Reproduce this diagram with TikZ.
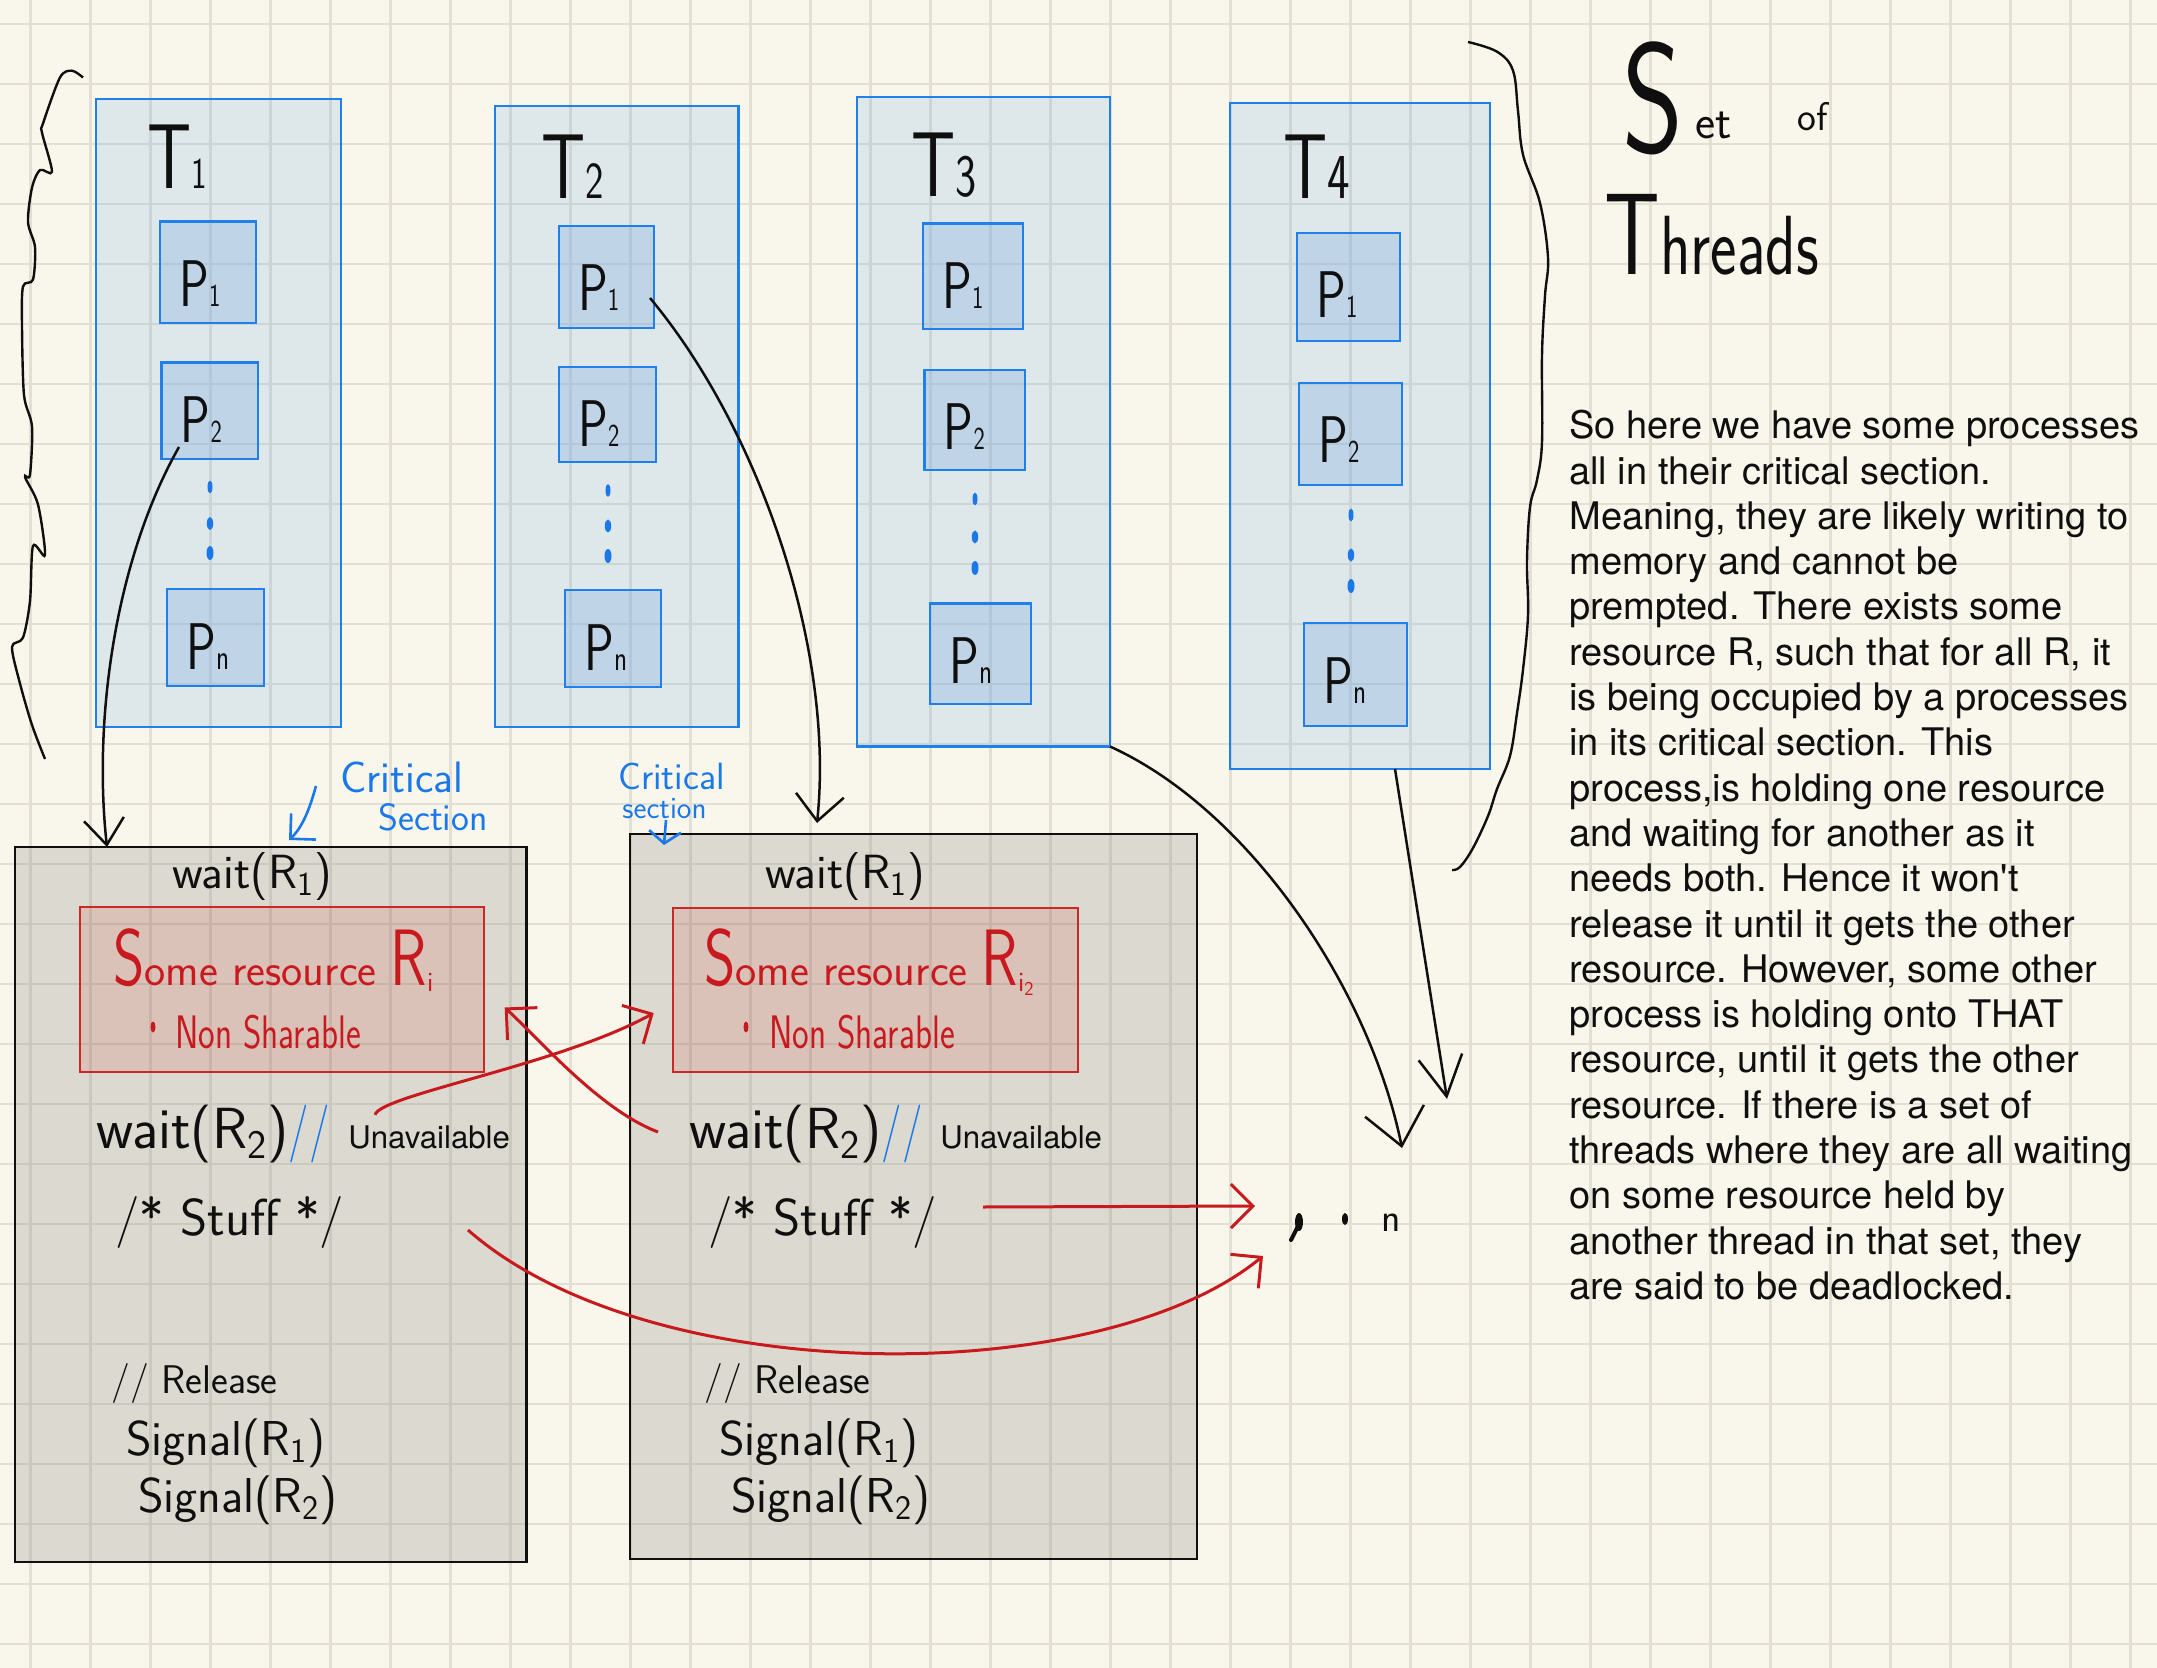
\documentclass[tikz,border=0pt]{standalone}
\usepackage{fontspec}
\usetikzlibrary{arrows.meta,fit}
\newfontfamily\helv{TeX Gyre Heros}
\newfontfamily\hand{lmsans17-regular}[Extension=.otf]
\newfontfamily\handN{lmsans17-regular}[Extension=.otf,FakeStretch=0.75]
\newcommand\fsz[1]{\fontsize{#1}{#1}\selectfont}
\definecolor{bg}{RGB}{249,247,236}
\definecolor{gridc}{RGB}{227,224,211}
\definecolor{tblue}{RGB}{30,128,232}
\definecolor{tfill}{RGB}{114,172,230}
\definecolor{pfill}{RGB}{120,170,225}
\definecolor{gfill}{RGB}{128,128,120}
\definecolor{rfill}{RGB}{213,60,60}
\definecolor{rline}{RGB}{200,40,40}
\definecolor{rink}{RGB}{200,25,30}
\definecolor{bink}{RGB}{26,120,232}
\definecolor{ink}{RGB}{15,15,15}
\begin{document}
\begin{tikzpicture}[x=0.5pt,y=-0.5pt,
  threadbox/.style={draw=tblue,line width=1.1pt,fill=tfill,fill opacity=0.2,inner sep=0pt,outer sep=0pt},
  procbox/.style={draw=tblue,line width=1.1pt,fill=pfill,fill opacity=0.3,inner sep=0pt,outer sep=0pt},
  codebox/.style={draw=ink,line width=1.4pt,fill=gfill,fill opacity=0.24,inner sep=0pt,outer sep=0pt},
  resbox/.style={draw=rline,line width=1.1pt,fill=rfill,fill opacity=0.15,inner sep=0pt,outer sep=0pt},
  tlabel/.style={anchor=base west,inner sep=0pt,text=ink,font=\handN\fsz{46}},
  plabel/.style={anchor=base west,inner sep=0pt,text=ink,font=\handN\fsz{33}},
  code/.style={anchor=base west,inner sep=0pt,text=ink},
  bdot/.style={fill=bink},
  blk/.style={draw=ink,line width=1.25pt},
  redarrow/.style={draw=rink,line width=1.5pt,-{Straight Barb[length=11pt,width=22pt]}},
  bluearrow/.style={draw=bink,line width=1.3pt},
  gridline/.style={draw=gridc,line width=1.25pt}
]
\useasboundingbox (0,0) rectangle (2157,1668);
\fill[bg] (0,0) rectangle (2157,1668);
\foreach \i in {0,...,35} \draw[gridline] ({30.6+60*\i},0) -- ({30.6+60*\i},1668);
\foreach \j in {0,...,27} \draw[gridline] (0,{24+60*\j}) -- (2157,{24+60*\j});

% threads
\node[threadbox, fit={(96,99) (341,727)}] (T1) {};
\node[threadbox, fit={(495,106) (738.5,727)}] (T2) {};
\node[threadbox, fit={(857,97) (1110,746.5)}] (T3) {};
\node[threadbox, fit={(1230,103) (1490,769)}] (T4) {};

\node[procbox, fit={(160,221.5) (256,323)}] (T1P1) {};
\node[procbox, fit={(161.5,362.6) (258,459)}] (T1P2) {};
\node[procbox, fit={(167,589) (264,686)}] (T1Pn) {};
\node[procbox, fit={(558.7,226) (654,328)}] (T2P1) {};
\node[procbox, fit={(559,367) (656,462)}] (T2P2) {};
\node[procbox, fit={(565,590) (661,687)}] (T2Pn) {};
\node[procbox, fit={(923,223.5) (1023,329)}] (T3P1) {};
\node[procbox, fit={(924.5,370) (1025,470)}] (T3P2) {};
\node[procbox, fit={(930,603.5) (1031,704)}] (T3Pn) {};
\node[procbox, fit={(1297,233) (1400,341)}] (T4P1) {};
\node[procbox, fit={(1299,383) (1402,485)}] (T4P2) {};
\node[procbox, fit={(1304,623) (1407,726)}] (T4Pn) {};

\node[tlabel] (lT1) at (147,189) {T{\fsz{22}1}};
\node[tlabel] (lT2) at (541,199) {T{\fsz{26}2}};
\node[tlabel] (lT3) at (911,197) {T{\fsz{30}3}};
\node[tlabel] (lT4) at (1283,199) {T{\fsz{32}4}};

\foreach \b in {T1,T2,T3,T4}{
  \node[plabel] at ([xshift=9.5pt,yshift=-42.5pt]\b P1.north west) {P{\fsz{16}1}};
  \node[plabel] at ([xshift=9.5pt,yshift=-40pt]\b P2.north west) {P{\fsz{16}2}};
  \node[plabel] at ([xshift=9.5pt,yshift=-40pt]\b Pn.north west) {P{\fsz{18}n}};
}
\foreach \x/\a/\b/\c in {210/487/523.5/553, 608/490.5/526/556, 975/499/537/568, 1351/515/555/586}{
  \fill[bdot] (\x,\a) ellipse [x radius=2.5,y radius=6.5];
  \fill[bdot] (\x,\b) ellipse [x radius=3.2,y radius=6.5];
  \fill[bdot] (\x,\c) ellipse [x radius=3.5,y radius=7];
}

% braces
\draw[ink,line width=1.2pt] plot[smooth,tension=0.5] coordinates {(83,77.5) (72,70.7) (60,77.5) (43,123.5) (42,132.6) (52,171.7) (40,170) (32,187.7) (28,222) (35,247) (33,279.6) (23,286.5) (22,325.5) (24,395) (32,426.5) (30,474.7) (25,477) (38,504.5) (45,555) (33,546) (30,601) (23,637.7) (12,647) (20,683.6) (32,725) (45,759)};
\draw[ink,line width=1.2pt] plot[smooth,tension=0.6] coordinates {(1468,42) (1497,51.7) (1513,70.6) (1518,111) (1523,154.7) (1540,203) (1548,257.6) (1545,295.6) (1542,355) (1542,442) (1537,480) (1530,507) (1527,561) (1528,615) (1523,669.6) (1517,713) (1510,756) (1497,789) (1488,816) (1473,848) (1460,867) (1452,870)};

% Set of Threads
\node[anchor=north west,inner sep=0pt,align=left,text=ink,font={\hand\fontsize{20}{61}\selectfont}] (title) at (1604,41) {\hspace*{9pt}{\handN\fsz{78}S}\hspace{6pt}\raisebox{7pt}{\hand\fsz{24}et}\hspace{33pt}\raisebox{11pt}{\hand\fsz{20}of}\\{\handN\fsz{58}T}{\handN\fsz{42}hreads}};

% paragraph
\node[anchor=north west,inner sep=0pt,align=left,text=ink,font={\helv\fontsize{19}{22.65}\selectfont}] (para) at (1569,410) {So here we have some processes\\all in their critical section.\\Meaning, they are likely writing to\\memory and cannot be\\prempted. There exists some\\resource R, such that for all R, it\\is being occupied by a processes\\in its critical section. This\\process,is holding one resource\\and waiting for another as it\\needs both. Hence it won't\\release it until it gets the other\\resource. However, some other\\process is holding onto THAT\\resource, until it gets the other\\resource. If there is a set of\\threads where they are all waiting\\on some resource held by\\another thread in that set, they\\are said to be deadlocked.};

% code boxes
\node[codebox, fit={(15,847) (526.5,1562)}] (B1) {};
\node[codebox, fit={(630,834) (1197,1559)}] (B2) {};
\node[resbox, fit={(79.6,907) (483.7,1072)}] (R1) {};
\node[resbox, fit={(672.7,908) (1078,1072)}] (R2) {};

\node[code,font=\hand\fsz{24}] (wa1) at (172,888) {wait(R\textsubscript{1})};
\node[code,font=\hand\fsz{24}] (wa2) at (765,888) {wait(R\textsubscript{1})};
\node[code,text=rink] (sr1) at (113,985) {{\handN\fsz{40}S}{\hand\fsz{22.5}ome resource }{\handN\fsz{40}R}{\hand\fsz{20}\textsubscript{i}}};
\node[code,text=rink] (sr2) at (704,985) {{\handN\fsz{40}S}{\hand\fsz{22.5}ome resource }{\handN\fsz{40}R}{\hand\fsz{20}\textsubscript{i\textsubscript{2}}}};
\fill[rink] (153,1027) ellipse [x radius=2.5,y radius=5.5];
\fill[rink] (746,1027) ellipse [x radius=2.5,y radius=5.5];
\node[code,text=rink,font=\handN\fsz{23.5}] (ns1) at (175,1048) {Non Sharable};
\node[code,text=rink,font=\handN\fsz{23.5}] (ns2) at (769,1048) {Non Sharable};
\node[code,font=\hand\fsz{29}] (w21) at (96,1148) {wait(R\textsubscript{2}){\handN\color{bink}//}};
\node[code,font=\hand\fsz{29}] (w22) at (689,1148) {wait(R\textsubscript{2}){\handN\color{bink}//}};
\node[code,font=\helv\fsz{15.6}] (un1) at (348,1148) {Unavailable};
\node[code,font=\helv\fsz{15.6}] (un2) at (940,1148) {Unavailable};
\node[code,font=\hand\fsz{26}] (st1) at (115,1235) {/* Stuff */};
\node[code,font=\hand\fsz{26}] (st2) at (708,1235) {/* Stuff */};
\node[code,font=\hand\fsz{20}] (rel1) at (111,1393) {// Release};
\node[code,font=\hand\fsz{20}] (rel2) at (704,1393) {// Release};
\node[code,font=\hand\fsz{24.5}] (sg11) at (126,1455) {Signal(R\textsubscript{1})};
\node[code,font=\hand\fsz{24.5}] (sg21) at (719,1455) {Signal(R\textsubscript{1})};
\node[code,font=\hand\fsz{24.5}] (sg12) at (138,1512) {Signal(R\textsubscript{2})};
\node[code,font=\hand\fsz{24.5}] (sg22) at (731,1512) {Signal(R\textsubscript{2})};

% critical section labels
\node[code,text=bink,font=\hand\fsz{22}] (crit1) at (340,792) {Critical};
\node[code,text=bink,font=\hand\fsz{19}] (sec1) at (378,830) {Section};
\node[code,text=bink,font=\hand\fsz{19}] (crit2) at (618,789) {Critical};
\node[code,text=bink,font=\hand\fsz{15.5}] (sec2) at (622,818) {section};

% dots target
\fill[ink] (1299,1222) ellipse [x radius=4,y radius=9];
\draw[ink,line width=2pt,line cap=round] (1300,1222) -- (1291,1240);
\fill[ink] (1345,1219) ellipse [x radius=3,y radius=6];
\node[code,font=\hand\fsz{20}] (nmark) at (1381,1231) {n};
\coordinate (dotsA) at (1255,1206);
\coordinate (dotsB) at (1263,1256);
\coordinate (dotsC) at (1402,1148);
\coordinate (dotsD) at (1447,1099);

% black arrows
\draw[blk,-{Straight Barb[length=13pt,width=20pt]}] ([xshift=8.75pt,yshift=6pt]T1P2.south west) .. controls (115,560) and (93,720) .. ([xshift=46pt]B1.north west);
\draw[blk,-{Straight Barb[length=13pt,width=24pt]}] ([xshift=-2pt,yshift=15pt]T2P1.south east) .. controls (760,430) and (835,650) .. ([xshift=93.5pt,yshift=5.5pt]B2.north west);
\draw[blk,-{Straight Barb[length=18pt,width=30pt]}] (T3.south east) .. controls (1250,810) and (1370,990) .. (dotsC);
\draw[blk,-{Straight Barb[length=20pt,width=22pt]}] ([xshift=17.5pt]T4.south) -- (dotsD);

% blue arrows
\draw[bluearrow,-{Straight Barb[length=9pt,width=18pt]}] ([xshift=-12pt,yshift=3pt]crit1.base west) .. controls (312,800) and (305,825) .. ([xshift=137pt,yshift=3.5pt]B1.north west);
\draw[bluearrow,-{Straight Barb[length=6pt,width=16pt]}] ([xshift=22pt,yshift=-1pt]sec2.base west) -- ([xshift=17pt,yshift=-5.5pt]B2.north west);

% red arrows
\draw[redarrow] ([xshift=13.5pt,yshift=5pt]un1.north west) .. controls (380,1095) and (560,1065) .. ([xshift=-9.5pt,yshift=-11.5pt]R2.west);
\draw[redarrow] ([xshift=-15.5pt,yshift=8pt]w22.base west) .. controls (600,1110) and (540,1040) .. ([xshift=10.5pt,yshift=-9pt]R1.east);
\draw[redarrow] ([xshift=137.5pt,yshift=14pt]st2.base west) -- (dotsA);
\draw[redarrow] ([xshift=176.5pt,yshift=2.5pt]st1.base west) .. controls (650,1390) and (1100,1390) .. (dotsB);
\end{tikzpicture}
\end{document}
